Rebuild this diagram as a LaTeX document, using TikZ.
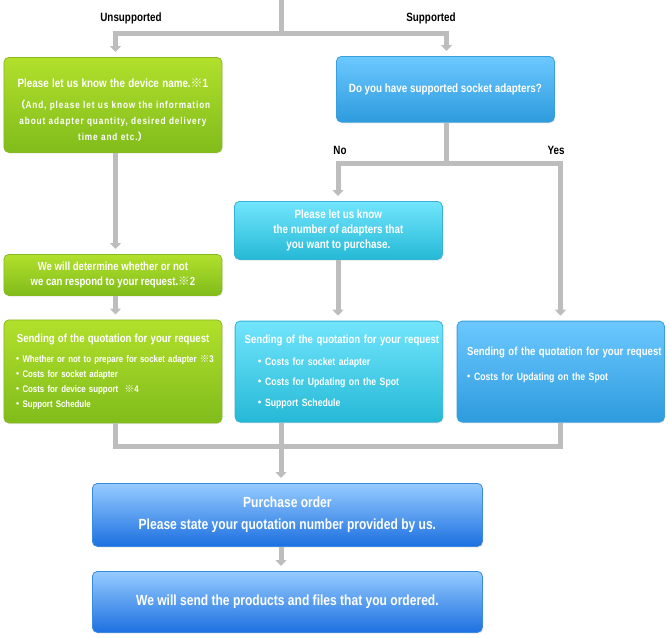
\documentclass[tikz,border=0pt]{standalone}
\usepackage{fontspec}
\setmainfont[FakeStretch=0.82]{Liberation Sans}
\newfontfamily\cjk{Noto Sans CJK JP}
\usetikzlibrary{arrows.meta,shadows}
\definecolor{gtop}{HTML}{B2E02C}
\definecolor{gbot}{HTML}{80BC1B}
\definecolor{gbrd}{HTML}{86BA1E}
\definecolor{btop}{HTML}{6CC8FF}
\definecolor{bbot}{HTML}{2D9BDD}
\definecolor{bbrd}{HTML}{3A9FDD}
\definecolor{ctop}{HTML}{72E5FD}
\definecolor{cbot}{HTML}{25B9D6}
\definecolor{cbrd}{HTML}{35B2D5}
\definecolor{ptop}{HTML}{96CBFF}
\definecolor{pbot}{HTML}{1C70E0}
\definecolor{pbrd}{HTML}{3A8BE0}
\definecolor{pipec}{HTML}{BDBDBD}
\newcommand\bul{{\cjk ・}}
\newcommand\rmk{{\cjk ※}}
\newcommand\lsp{\addfontfeature{LetterSpace=9}}
\tikzset{
  box/.style={draw, line width=0.8pt, rounded corners=5pt, inner sep=0pt,
    anchor=north west, text=white,
    drop shadow={opacity=0.18, shadow xshift=0.8pt, shadow yshift=-1.2pt}},
  gbox/.style={box, draw=gbrd, top color=gtop, bottom color=gbot},
  bbox/.style={box, draw=bbrd, top color=btop, bottom color=bbot},
  cbox/.style={box, draw=cbrd, top color=ctop, bottom color=cbot},
  pbox/.style={box, draw=pbrd, top color=ptop, bottom color=pbot},
  pipe/.style={draw=pipec, line width=5pt, line join=miter},
  tip/.style={-{Triangle[width=11pt,length=6pt]}, shorten >=5pt},
  lbl/.style={font=\bfseries\fontsize{12}{14}\selectfont, text=black, inner sep=0pt}
}
\begin{document}
\begin{tikzpicture}[x=1pt,y=-1pt]
\useasboundingbox (0,0) rectangle (669,637);

% column and junction coordinates
\coordinate (xg) at (115.5,0);
\coordinate (xm) at (281,0);
\coordinate (xb) at (446.5,0);
\coordinate (xn) at (338,0);
\coordinate (xy) at (560.5,0);
\coordinate (s0) at (281,-3);
\coordinate (j0) at (281,33.5);
\coordinate (j1) at (446.5,163.5);
\coordinate (j2) at (281,446);

% boxes
\node[gbox, minimum width=218pt, minimum height=95pt, text width=218pt, align=center,
      font=\bfseries\fontsize{10}{16}\selectfont] (g1) at (3.5,57)
  {\rule{0pt}{19pt}{\fontsize{12}{14}\selectfont Please let us know the device name.\rmk1}\\[5pt]
   {\lsp{\cjk （}And, please let us know the information\\
   about adapter quantity, desired delivery\\
   time and etc.{\cjk ）}}};

\node[bbox, minimum width=218pt, minimum height=65.7pt, align=center,
      font=\bfseries\fontsize{12}{14}\selectfont] (b1) at (336,56)
  {Do you have supported socket adapters?};

\node[cbox, minimum width=208pt, minimum height=58pt, align=center,
      font=\bfseries\fontsize{12}{15}\selectfont] (c1) at (234,201)
  {Please let us know\\the number of adapters that\\you want to purchase.};

\node[gbox, minimum width=218pt, minimum height=41pt, align=center,
      font=\bfseries\fontsize{11.7}{15.4}\selectfont] (g2) at (3.5,254)
  {We will determine whether or not\\we can respond to your request.\rmk2};

\node[gbox, minimum width=218pt, minimum height=103pt, text width=200pt, inner xsep=9pt,
      align=left, font=\bfseries\fontsize{9.6}{15}\selectfont] (g3) at (3.5,319.5)
  {\mbox{\fontsize{11.7}{14}\selectfont\hspace*{4pt}Sending of the quotation for your request}\\[5pt]
   \mbox{\bul Whether or not to prepare for socket adapter \rmk3}\\
   \mbox{\bul Costs for socket adapter}\\
   \mbox{\bul Costs for device support\ \ \rmk4}\\
   \mbox{\bul Support Schedule}};

\node[cbox, minimum width=207.6pt, minimum height=101pt, text width=188.4pt, inner xsep=9.6pt,
      align=left, font=\bfseries\fontsize{10.6}{20.5}\selectfont] (c2) at (234.7,320.7)
  {\mbox{\fontsize{11.7}{14}\selectfont Sending of the quotation for your request}\\[1.9pt]
   \mbox{\hspace*{9.7pt}\bul Costs for socket adapter}\\
   \mbox{\hspace*{9.7pt}\bul Costs for Updating on the Spot}\\
   \mbox{\hspace*{9.7pt}\bul Support Schedule}};

\node[bbox, minimum width=207.3pt, minimum height=101pt, text width=194.7pt, inner xsep=6.3pt,
      align=left, font=\bfseries\fontsize{10.6}{25}\selectfont] (b3) at (456.7,320.7)
  {\mbox{\fontsize{11.7}{14}\selectfont\hspace*{3.7pt}Sending of the quotation for your request}\\
   \mbox{\bul Costs for Updating on the Spot\rule[-16.6pt]{0pt}{1pt}}};

\node[pbox, minimum width=390pt, minimum height=63pt, align=center,
      font=\bfseries\fontsize{14.7}{21.7}\selectfont] (p1) at (92,483)
  {Purchase order\\Please state your quotation number provided by us.};

\node[pbox, minimum width=390pt, minimum height=61pt, align=center,
      font=\bfseries\fontsize{14.7}{18}\selectfont] (p2) at (92,571)
  {We will send the products and files that you ordered.};

% labels
\node[lbl] (lu) at (131,18.3) {Unsupported};
\node[lbl] (ls) at (431,18.3) {Supported};
\node[lbl] (lno) at (340,150.7) {No};
\node[lbl] (lyes) at (556,150.7) {Yes};

% connectors
\draw[pipe] (s0) -- (j0);
\draw[pipe, tip] (j0) -| (g1.north -| xg);
\draw[pipe, tip] (j0) -| (b1.north -| xb);
\draw[pipe] (b1.south -| xb) -- (j1);
\draw[pipe, tip] (j1) -| (c1.north -| xn);
\draw[pipe, tip] (j1) -| (b3.north -| xy);
\draw[pipe, tip] (g1.south -| xg) -- (g2.north -| xg);
\draw[pipe, tip] (g2.south -| xg) -- (g3.north -| xg);
\draw[pipe, tip] (c1.south -| xn) -- (c2.north -| xn);
\draw[pipe] (g3.south -| xg) |- (j2);
\draw[pipe] (b3.south -| xy) |- (j2);
\draw[pipe, tip] (c2.south -| xm) -- (p1.north -| xm);
\draw[pipe, tip] (p1.south -| xm) -- (p2.north -| xm);
\end{tikzpicture}
\end{document}
